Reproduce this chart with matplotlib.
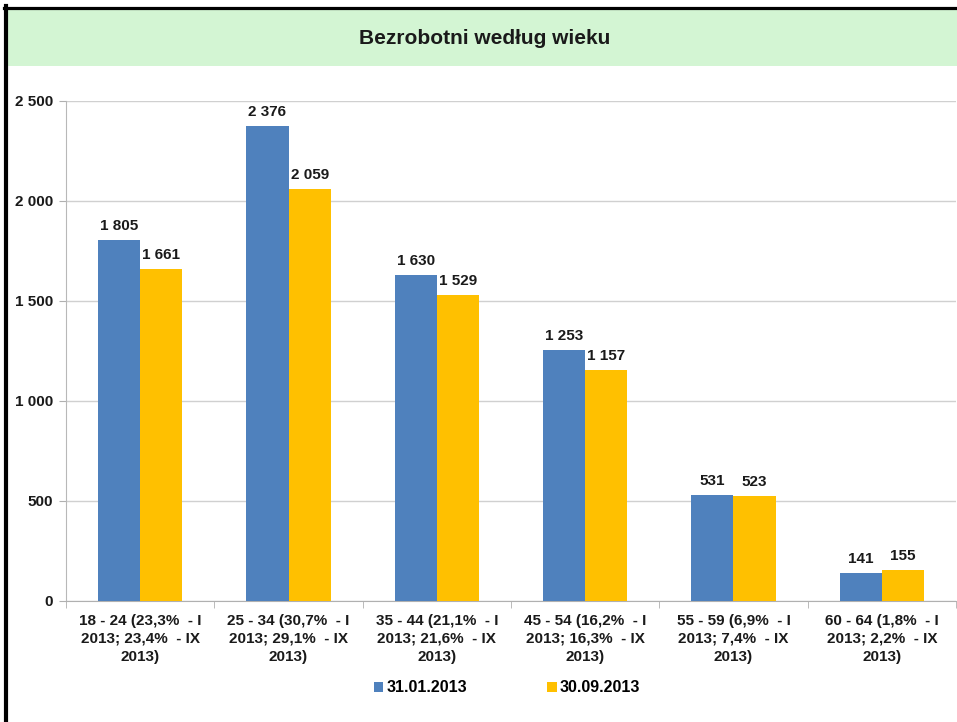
import numpy as np
import matplotlib.pyplot as plt
from matplotlib.patches import Rectangle
from matplotlib.lines import Line2D

# ------------------
# DATA
# ------------------
categories = [
    '18 - 24 (23,3%  - I\n2013; 23,4%  - IX\n2013)',
    '25 - 34 (30,7%  - I\n2013; 29,1%  - IX\n2013)',
    '35 - 44 (21,1%  - I\n2013; 21,6%  - IX\n2013)',
    '45 - 54 (16,2%  - I\n2013; 16,3%  - IX\n2013)',
    '55 - 59 (6,9%  - I\n2013; 7,4%  - IX\n2013)',
    '60 - 64 (1,8%  - I\n2013; 2,2%  - IX\n2013)',
]
jan_2013 = [1805, 2376, 1630, 1253, 531, 141]
sep_2013 = [1661, 2059, 1529, 1157, 523, 155]
series_names = ['31.01.2013', '30.09.2013']
yticks = [0, 500, 1000, 1500, 2000, 2500]

title = 'Bezrobotni według wieku'

# ------------------
# STYLE
# ------------------
plt.rcParams['font.family'] = ['Liberation Sans', 'DejaVu Sans']
plt.rcParams['font.weight'] = 'bold'

W, H = 957, 722
fig = plt.figure(figsize=(W / 100, H / 100), dpi=100)

blue = '#4F81BD'
yellow = '#FFC000'
txt = '#1a1a1a'

# frame + header band
fig.add_artist(Rectangle((8 / W, 1 - 66 / H), 1 - 8 / W, 57 / H,
                         transform=fig.transFigure, facecolor='#D3F5D3',
                         edgecolor='none', zorder=0))
fig.add_artist(Line2D([6 / W, 6 / W], [0, 1 - 6 / H], transform=fig.transFigure,
                      color='black', linewidth=3, solid_capstyle='projecting'))
fig.add_artist(Line2D([4 / W, 1], [1 - 7.5 / H, 1 - 7.5 / H], transform=fig.transFigure,
                      color='black', linewidth=2.3))
fig.text(485 / W, 1 - 39 / H, title, ha='center', va='center',
         fontsize=15, fontweight='bold', color=txt)

# ------------------
# AXES
# ------------------
ax = fig.add_axes([66 / W, (H - 601) / H, (956 - 66) / W, 500 / H])

x = np.arange(len(categories))
w = 0.285
b1 = ax.bar(x - w / 2, jan_2013, w, color=blue, label=series_names[0], zorder=3)
b2 = ax.bar(x + w / 2, sep_2013, w, color=yellow, label=series_names[1], zorder=3)

for bars in (b1, b2):
    for rect in bars:
        v = rect.get_height()
        lab = f'{v:,}'.replace(',', ' ')
        ax.annotate(lab, (rect.get_x() + rect.get_width() / 2, v),
                    xytext=(0, 5), textcoords='offset points',
                    ha='center', va='bottom', fontsize=11,
                    fontweight='bold', color=txt)

ax.set_xlim(-0.5, len(categories) - 0.5)
ax.set_ylim(0, 2500)
ax.set_yticks(yticks)
ax.set_yticklabels([f'{t:,}'.replace(',', ' ') for t in yticks])
ax.yaxis.grid(True, color='#D0D0D0', linewidth=1, zorder=0)
ax.set_axisbelow(True)

ax.set_xticks(x)
ax.set_xticklabels(categories, fontsize=11, fontweight='bold', color=txt,
                   linespacing=1.4)
ax.set_xticks(np.arange(-0.5, len(categories)), minor=True)
ax.tick_params(axis='x', which='major', length=0, pad=9)
ax.tick_params(axis='x', which='minor', length=5, color='#B0B0B0')
ax.tick_params(axis='y', length=5, color='#B0B0B0', labelsize=11,
               labelcolor=txt, pad=4.5)

for s in ['top', 'right']:
    ax.spines[s].set_visible(False)
ax.spines['left'].set_color('#B8B8B8')
ax.spines['bottom'].set_color('#B0B0B0')

fig.legend(handles=[b1, b2], labels=series_names, loc='center',
           bbox_to_anchor=(507 / W, 1 - 688 / H), ncol=2, frameon=False,
           fontsize=11.5, handlelength=0.6, handleheight=0.6,
           handletextpad=0.2, columnspacing=5.0)

fig.savefig('out.png', dpi=100)
